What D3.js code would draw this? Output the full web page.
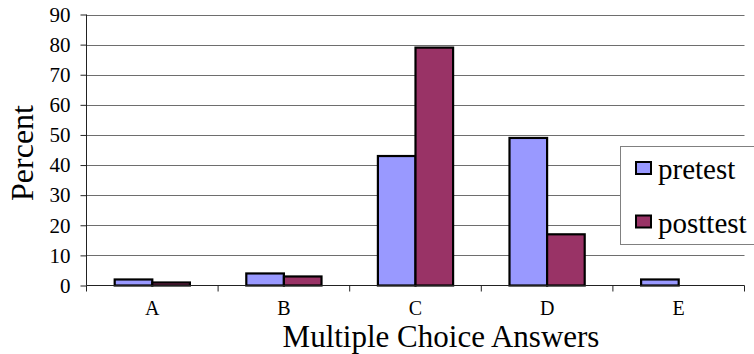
<!DOCTYPE html>
<html>
<head>
<meta charset="utf-8">
<script src="https://cdn.jsdelivr.net/npm/d3@7"></script>
<style>
  html, body { margin: 0; padding: 0; background: #fff; }
  svg { display: block; }
  svg text { font-family: "Liberation Serif", "Times New Roman", serif !important; fill: #000; }
</style>
</head>
<body>
<svg id="chart" width="754" height="354"></svg>
<script>
// Answer categories and percentages per test
const categories = ["A", "B", "C", "D", "E"];
const pretest = [2, 4, 43, 49, 2];
const posttest = [1, 3, 79, 17, 0];
const seriesNames = ["pretest", "posttest"];
const seriesColors = ["#9999FF", "#993366"];
const yTicks = [0, 10, 20, 30, 40, 50, 60, 70, 80, 90];

const SERIF = '"Liberation Serif", "Times New Roman", serif';
const svg = d3.select("#chart");
const plotLeft = 86.5, plotRight = 744.5, plotTop = 14.5, plotBottom = 285.5;

const x = d3.scaleBand().domain(categories).range([plotLeft, plotRight]).paddingInner(0).paddingOuter(0);
const inner = d3.scaleBand().domain(seriesNames).range([0, x.bandwidth()]).paddingInner(0).paddingOuter(0.75);
const y = d3.scaleLinear().domain([0, 90]).range([plotBottom, plotTop]);

// Horizontal gridlines
svg.append("g")
  .selectAll("line")
  .data(yTicks.filter(d => d > 0))
  .join("line")
  .attr("x1", plotLeft).attr("x2", plotRight)
  .attr("y1", d => Math.round(y(d)) + 0.5).attr("y2", d => Math.round(y(d)) + 0.5)
  .attr("stroke", "#6e6e6e").attr("stroke-width", 1);

// Y axis
const yAxis = svg.append("g")
  .attr("transform", `translate(${plotLeft},0)`)
  .call(d3.axisLeft(y).tickValues(yTicks).tickSize(6).tickPadding(10).tickFormat(d3.format("d")));
yAxis.attr("font-family", SERIF);
yAxis.select(".domain").attr("stroke", "#222").attr("d", `M0,${plotTop}V${plotBottom}`);
yAxis.selectAll(".tick line").attr("stroke", "#222");
yAxis.selectAll(".tick text").style("font-size", "21px").style("font-family", SERIF);

// Bars
const data = categories.map((c, i) => ({ cat: c, values: [pretest[i], posttest[i]] }));
const groups = svg.append("g").selectAll("g")
  .data(data)
  .join("g")
  .attr("transform", d => `translate(${x(d.cat)},0)`);
groups.selectAll("rect")
  .data(d => d.values.map((v, j) => ({ v, j })).filter(e => e.v > 0))
  .join("rect")
  .attr("x", e => inner(seriesNames[e.j]))
  .attr("width", inner.bandwidth())
  .attr("y", e => y(e.v))
  .attr("height", e => y(0) - y(e.v))
  .attr("fill", e => seriesColors[e.j])
  .attr("stroke", "#000")
  .attr("stroke-width", 2.2);

// X axis
const xAxis = svg.append("g")
  .attr("transform", `translate(0,${plotBottom})`)
  .call(d3.axisBottom(x).tickSize(0).tickPadding(0));
xAxis.attr("font-family", SERIF);
xAxis.select(".domain").attr("stroke", "#222").attr("d", `M${plotLeft},0H${plotRight}`);
xAxis.selectAll(".tick text")
  .attr("y", 29.5).attr("dy", null)
  .style("font-size", "20px").style("font-family", SERIF);
// Category boundary tick marks
svg.append("g")
  .selectAll("line")
  .data(d3.range(categories.length + 1))
  .join("line")
  .attr("x1", i => plotLeft + i * x.bandwidth()).attr("x2", i => plotLeft + i * x.bandwidth())
  .attr("y1", plotBottom).attr("y2", plotBottom + 6)
  .attr("stroke", "#222");

// Axis titles
svg.append("text")
  .attr("x", 441).attr("y", 347)
  .attr("text-anchor", "middle")
  .style("font-size", "31px").style("font-family", SERIF)
  .text("Multiple Choice Answers");
svg.append("text")
  .attr("transform", "translate(33,153) rotate(-90)")
  .attr("text-anchor", "middle")
  .style("font-size", "32px").style("font-family", SERIF)
  .text("Percent");

// Legend
const legend = svg.append("g");
legend.append("rect")
  .attr("x", 620.5).attr("y", 146.5).attr("width", 140).attr("height", 98)
  .attr("fill", "#fff").attr("stroke", "#808080").attr("stroke-width", 1);
const items = legend.selectAll("g.item")
  .data(seriesNames)
  .join("g")
  .attr("class", "item")
  .attr("transform", (d, i) => `translate(636,${162 + i * 53.5})`);
items.append("rect")
  .attr("width", 15).attr("height", 12)
  .attr("fill", (d, i) => seriesColors[i])
  .attr("stroke", "#000").attr("stroke-width", 2);
items.append("text")
  .attr("x", 22).attr("y", 17)
  .style("font-size", "29px").style("font-family", SERIF)
  .text(d => d);
</script>
</body>
</html>
